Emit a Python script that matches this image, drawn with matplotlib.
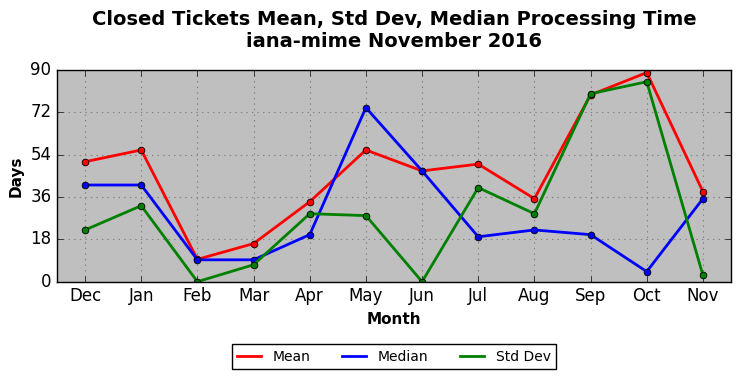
import matplotlib
matplotlib.use('Agg')
import matplotlib.pyplot as plt

months = ['Dec', 'Jan', 'Feb', 'Mar', 'Apr', 'May', 'Jun', 'Jul', 'Aug', 'Sep', 'Oct', 'Nov']
mean_days = [51.0, 56.0, 9.5, 16.2, 34.0, 56.0, 47.1, 50.0, 35.3, 79.4, 88.9, 38.3]
median_days = [41.1, 41.1, 9.3, 9.3, 20.0, 74.0, 47.1, 19.1, 22.0, 20.0, 4.3, 35.3]
std_days = [22.0, 32.3, 0.0, 7.2, 28.9, 28.1, 0.0, 40.0, 28.9, 79.9, 85.0, 2.8]
yticks = [0, 18, 36, 54, 72, 90]

plt.style.use('classic')
fig = plt.figure(figsize=(7.41, 3.78), dpi=100, facecolor='white')
ax = fig.add_axes([0.0769, 0.2548, 0.9096, 0.56])
ax.set_facecolor('0.75')
ax.set_axisbelow(True)

x = list(range(len(months)))
ax.plot(x, mean_days, '-o', color='red', lw=2, ms=4.8, mec='black', mew=0.6, label='Mean')
ax.plot(x, median_days, '-o', color='blue', lw=2, ms=4.8, mec='black', mew=0.6, label='Median')
ax.plot(x, std_days, '-o', color='green', lw=2, ms=4.8, mec='black', mew=0.6, label='Std Dev')

ax.set_xlim(-0.5, len(months) - 0.5)
ax.set_ylim(0, 90)
ax.set_xticks(x)
ax.set_xticklabels(months, fontsize=12)
ax.set_yticks(yticks)
ax.tick_params(axis='y', labelsize=12)
ax.grid(True, color='0.5', linestyle=':', linewidth=0.8)
ax.set_xlabel('Month', fontsize=11, fontweight='bold')
ax.set_ylabel('Days', fontsize=11, fontweight='bold')
ax.set_title('Closed Tickets Mean, Std Dev, Median Processing Time\niana-mime November 2016',
             fontsize=14, fontweight='bold', y=1.078)

leg = ax.legend(loc='center', bbox_to_anchor=(0.5, -0.355),
                ncol=3, fontsize=10, frameon=True, numpoints=1,
                handlelength=1.7, handletextpad=0.85, columnspacing=2.3)
for h in leg.legend_handles:
    h.set_marker('')

fig.savefig('out.png', dpi=100, facecolor='white')
